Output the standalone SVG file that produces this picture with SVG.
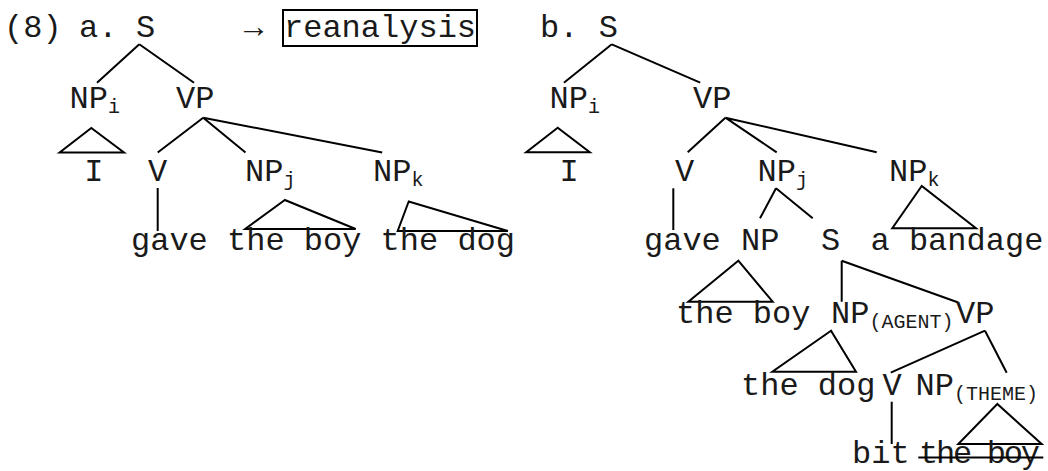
<svg xmlns="http://www.w3.org/2000/svg" width="1048" height="471" viewBox="0 0 1048 471">
<style>
text{font-family:"Liberation Mono","Courier New",monospace;font-size:32px;fill:#1a1a1a}
.sub{font-size:20px}
.ln{stroke:#000;stroke-width:2;fill:none;stroke-linejoin:miter}
</style>
<rect width="1048" height="471" fill="#fff"/>
<g id="labels">
<text x="4" y="37">(8)</text>
<text x="79" y="37">a.</text>
<text x="244" y="37">→</text>
<rect x="283" y="10" width="194" height="36" class="ln"/>
<text x="284" y="37">reanalysis</text>
<text x="540" y="37">b.</text>
</g>
<g id="connectors" class="ln">
<path d="M139.3,44.3L97,82.7M139.3,44.3L194,82.7"/>
<path d="M91.3,128L59.6,152.5H124Z"/>
<path d="M203.2,117.7L157.7,152.5M203.2,117.7L245.5,152.5M203.2,117.7L382.2,152.5"/>
<path d="M157.7,188V231"/>
<path d="M284.8,200L245.2,229H355.7Z"/>
<path d="M408.7,201.5L397.7,231H507.9Z"/>
<path d="M611.8,44.3L563.9,82.7M611.8,44.3L700.2,82.7"/>
<path d="M557.7,127.7L526.2,152.2H589.8Z"/>
<path d="M725.4,117.7L687.7,152.3M725.4,117.7L776.7,152.3M725.4,117.7L876.7,152.3"/>
<path d="M673.3,188.3V230"/>
<path d="M776,188.3L760,218.3M776,188.3L812.7,218.3"/>
<path d="M921.7,186L892.3,228.3H976Z"/>
<path d="M738.3,260.7L688.3,301.7H772.7Z"/>
<path d="M841.7,260.7V301.7M841.7,260.7L958.3,302.5"/>
<path d="M831,330.7L772.3,371.7H856Z"/>
<path d="M985,330.7L890.7,372.7M985,330.7L1006.7,372.7"/>
<path d="M891.7,401.7V444"/>
<path d="M997.3,404L958.3,444H1041.7Z"/>
</g>
<g id="a-S"><text x="136" y="37">S</text></g>
<g id="a-NPi"><text x="69.5" y="108">NP<tspan class="sub" dy="5">i</tspan></text></g>
<g id="a-VP"><text x="176" y="108">VP</text></g>
<g id="a-I"><text x="84.2" y="181">I</text></g>
<g id="a-V"><text x="147.9" y="181">V</text></g>
<g id="a-NPj"><text x="245" y="181">NP<tspan class="sub" dy="5">j</tspan></text></g>
<g id="a-NPk"><text x="373" y="181">NP<tspan class="sub" dy="5">k</tspan></text></g>
<g id="a-gave"><text x="131" y="250">gave</text></g>
<g id="a-theboy"><text x="227" y="250">the boy</text></g>
<g id="a-thedog"><text x="380.6" y="250">the dog</text></g>
<g id="b-S"><text x="598.7" y="37">S</text></g>
<g id="b-NPi"><text x="549.5" y="108">NP<tspan class="sub" dy="5">i</tspan></text></g>
<g id="b-VP"><text x="693" y="108">VP</text></g>
<g id="b-I"><text x="559.4" y="181">I</text></g>
<g id="b-V"><text x="675.1" y="181">V</text></g>
<g id="b-NPj"><text x="757.5" y="181">NP<tspan class="sub" dy="5">j</tspan></text></g>
<g id="b-NPk"><text x="889" y="181">NP<tspan class="sub" dy="5">k</tspan></text></g>
<g id="b-gave"><text x="644" y="250">gave</text></g>
<g id="b-NP"><text x="741" y="250">NP</text></g>
<g id="b-S2"><text x="820.9" y="250">S</text></g>
<g id="b-abandage"><text x="870.5" y="250">a bandage</text></g>
<g id="b-theboy"><text x="676" y="323">the boy</text></g>
<g id="b-NPagent"><text x="831" y="323">NP<tspan class="sub" dy="4.5">(AGENT)</tspan></text></g>
<g id="b-VP2"><text x="956" y="323">VP</text></g>
<g id="b-thedog"><text x="741" y="395">the dog</text></g>
<g id="b-V2"><text x="882.6" y="395">V</text></g>
<g id="b-NPtheme"><text x="915.5" y="395">NP<tspan class="sub" dy="5">(THEME)</tspan></text></g>
<g id="b-bit"><text x="852" y="463">bit</text></g>
<g id="b-theboy2"><text x="919" y="463" textLength="121" lengthAdjust="spacing">the boy</text><line x1="918.3" y1="457.5" x2="1043.3" y2="457.5" class="ln"/></g>
</svg>
